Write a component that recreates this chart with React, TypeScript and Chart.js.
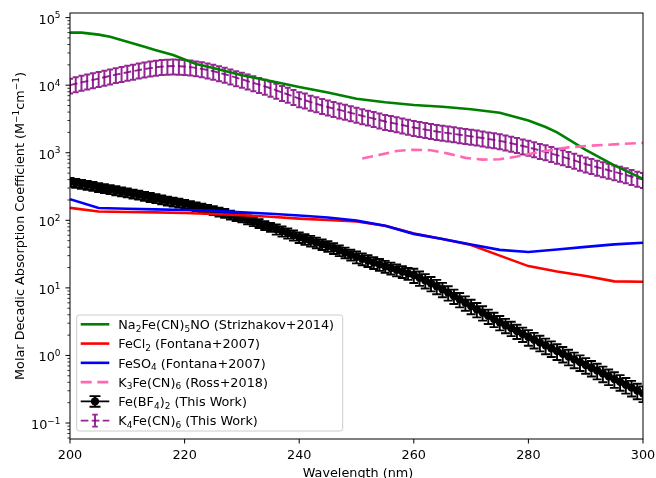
import { useEffect, useRef } from 'react';
import { Chart, registerables } from 'chart.js';
Chart.register(...registerables);

const FONT = '"DejaVu Sans", sans-serif';
const FS = 12.8;

// ---- axis ranges and ticks ----
const X_MIN = 200;
const X_MAX = 300;
const Y_MIN = 0.058;
const Y_MAX = 1.17e5;
const xTickValues = [200, 220, 240, 260, 280, 300];
const yDecadeExponents = [-1, 0, 1, 2, 3, 4, 5];

// ---- Na2Fe(CN)5NO (Strizhakov+2014) ----
const na2Wavelength = [200, 202, 205, 207, 210, 213, 215, 218, 220, 222, 225, 230, 235, 240, 245, 250, 255, 260, 265, 270, 275, 280, 283, 285, 290, 295, 300];
const na2Value = [6.0e4, 6.0e4, 5.6e4, 5.2e4, 4.4e4, 3.7e4, 3.3e4, 2.8e4, 2.4e4, 2.05e4, 1.8e4, 1.4e4, 1.15e4, 9.4e3, 7.8e3, 6.3e3, 5.6e3, 5.1e3, 4.8e3, 4.4e3, 3.9e3, 3.0e3, 2.4e3, 2.0e3, 1.1e3, 6.5e2, 4.1e2];

// ---- Fontana+2007 ----
const fontanaWavelength = [200, 205, 210, 215, 220, 225, 230, 235, 240, 245, 250, 255, 260, 265, 270, 275, 280, 285, 290, 295, 300];
const feCl2Value = [153, 135, 133, 131, 128, 124, 119, 113, 106, 101, 96, 83, 64, 53, 43, 30, 21, 17.5, 15, 12.5, 12.3];
const feSO4Value = [205, 152, 148, 145, 142, 138, 131, 125, 118, 110, 99, 83, 63, 53, 44, 36.5, 34, 37, 40.5, 44, 46.5];

// ---- K3Fe(CN)6 (Ross+2018) ----
const rossWavelength = [251, 254, 257, 260, 263, 266, 269, 272, 275, 278, 281, 284, 287, 290, 295, 300];
const k3Value = [820, 930, 1060, 1110, 1090, 970, 840, 790, 800, 880, 990, 1100, 1200, 1260, 1330, 1400];

// ---- This Work ----
const thisWorkWavelength = [
  200, 201, 202, 203, 204, 205, 206, 207, 208, 209, 210, 211, 212, 213, 214, 215, 216, 217, 218, 219,
  220, 221, 222, 223, 224, 225, 226, 227, 228, 229, 230, 231, 232, 233, 234, 235, 236, 237, 238, 239,
  240, 241, 242, 243, 244, 245, 246, 247, 248, 249, 250, 251, 252, 253, 254, 255, 256, 257, 258, 259,
  260, 261, 262, 263, 264, 265, 266, 267, 268, 269, 270, 271, 272, 273, 274, 275, 276, 277, 278, 279,
  280, 281, 282, 283, 284, 285, 286, 287, 288, 289, 290, 291, 292, 293, 294, 295, 296, 297, 298, 299, 300,
];
const feBF4Value = [
  368, 356, 344, 332, 321, 309, 298, 287, 277, 267, 257, 247, 238, 229, 220, 211, 203, 195, 188, 181,
  174, 167, 160, 153, 147, 141, 134, 128, 121, 115, 110, 103, 96.4, 90.4, 84.7, 79.4, 74.1, 69.2, 64.6, 60.3,
  56.2, 53.0, 49.9, 47.0, 44.3, 41.7, 38.7, 36.0, 33.4, 31.0, 28.8, 27.0, 25.4, 23.8, 22.3, 20.9, 19.7, 18.5, 17.5, 16.4,
  15.5, 14.1, 12.9, 11.7, 10.6, 9.55, 8.51, 7.59, 6.76, 6.03, 5.37, 4.81, 4.31, 3.85, 3.45, 3.09, 2.80, 2.54, 2.30, 2.08,
  1.88, 1.71, 1.55, 1.41, 1.28, 1.16, 1.06, 0.962, 0.875, 0.796, 0.724, 0.658, 0.597, 0.542, 0.492, 0.447, 0.406, 0.368, 0.334, 0.303, 0.275,
];
// relative uncertainty of each Fe(BF4)2 point
const feBF4RelErr = [
  0.15, 0.15, 0.15, 0.15, 0.15, 0.15, 0.15, 0.15, 0.15, 0.15, 0.15, 0.15, 0.15, 0.15, 0.15, 0.15, 0.15, 0.15, 0.15, 0.15,
  0.15, 0.15, 0.15, 0.15, 0.15, 0.15, 0.15, 0.15, 0.15, 0.15, 0.15, 0.15, 0.15, 0.15, 0.15, 0.15, 0.17, 0.17, 0.17, 0.17,
  0.18, 0.18, 0.18, 0.18, 0.18, 0.18, 0.18, 0.18, 0.18, 0.18, 0.2, 0.2, 0.2, 0.2, 0.2, 0.2, 0.2, 0.2, 0.2, 0.2,
  0.24, 0.24, 0.24, 0.24, 0.24, 0.24, 0.24, 0.24, 0.24, 0.24, 0.24, 0.24, 0.24, 0.24, 0.24, 0.24, 0.24, 0.24, 0.24, 0.24,
  0.26, 0.26, 0.26, 0.26, 0.26, 0.26, 0.26, 0.26, 0.26, 0.26, 0.26, 0.26, 0.26, 0.26, 0.26, 0.26, 0.26, 0.26, 0.26, 0.26, 0.26,
];
const k4Value = [
  10000, 10500, 11000, 11500, 12000, 12500, 13100, 13700, 14300, 14900, 15500, 16100, 16700, 17300, 17900, 18400, 18800, 19100, 19200, 19100,
  18900, 18500, 18000, 17400, 16800, 16100, 15300, 14500, 13700, 12900, 12200, 11500, 10800, 10200, 9600, 9000, 8400, 7800, 7300, 6800,
  6300, 6000, 5600, 5300, 5000, 4750, 4500, 4300, 4100, 3900, 3700, 3520, 3360, 3200, 3050, 2900, 2790, 2680, 2570, 2460,
  2360, 2280, 2200, 2130, 2060, 2000, 1950, 1900, 1850, 1800, 1750, 1700, 1650, 1600, 1550, 1500, 1440, 1380, 1320, 1260,
  1200, 1140, 1080, 1030, 970, 920, 870, 820, 770, 720, 680, 645, 610, 580, 550, 520, 495, 470, 445, 420, 400,
];
const k4RelErr = 0.25;

// ---- text ----
type Seg = { t: string; s?: 'sub' | 'sup' };
const xTitle: Seg[] = [{ t: 'Wavelength (nm)' }];
const yTitle: Seg[] = [
  { t: 'Molar Decadic Absorption Coefficient (M' }, { t: '\u22121', s: 'sup' }, { t: 'cm' }, { t: '\u22121', s: 'sup' }, { t: ')' },
];
const legendLabels: Seg[][] = [
  [{ t: 'Na' }, { t: '2', s: 'sub' }, { t: 'Fe(CN)' }, { t: '5', s: 'sub' }, { t: 'NO (Strizhakov+2014)' }],
  [{ t: 'FeCl' }, { t: '2', s: 'sub' }, { t: ' (Fontana+2007)' }],
  [{ t: 'FeSO' }, { t: '4', s: 'sub' }, { t: ' (Fontana+2007)' }],
  [{ t: 'K' }, { t: '3', s: 'sub' }, { t: 'Fe(CN)' }, { t: '6', s: 'sub' }, { t: ' (Ross+2018)' }],
  [{ t: 'Fe(BF' }, { t: '4', s: 'sub' }, { t: ')' }, { t: '2', s: 'sub' }, { t: ' (This Work)' }],
  [{ t: 'K' }, { t: '4', s: 'sub' }, { t: 'Fe(CN)' }, { t: '6', s: 'sub' }, { t: ' (This Work)' }],
];

const GREEN = '#008000';
const RED = '#ff0000';
const BLUE = '#0000ff';
const PINK = '#ff69b4';
const BLACK = '#000000';
const PURPLE_A = 'rgba(128,0,128,0.85)';

function drawRich(ctx: CanvasRenderingContext2D, segs: Seg[], x: number, y: number, size: number, align: 'left' | 'center' | 'right') {
  const sc = 0.7;
  const widths = segs.map((sg) => {
    ctx.font = `${sg.s ? size * sc : size}px ${FONT}`;
    return ctx.measureText(sg.t).width;
  });
  const total = widths.reduce((a, b) => a + b, 0);
  let cx = align === 'left' ? x : align === 'center' ? x - total / 2 : x - total;
  ctx.textAlign = 'left';
  ctx.textBaseline = 'alphabetic';
  segs.forEach((sg, i) => {
    ctx.font = `${sg.s ? size * sc : size}px ${FONT}`;
    const dy = sg.s === 'sub' ? size * 0.2 : sg.s === 'sup' ? -size * 0.42 : 0;
    ctx.fillText(sg.t, cx, y + dy);
    cx += widths[i];
  });
}

const errorBarPlugin = {
  id: 'errbars',
  beforeDatasetDraw(chart: any, args: any) {
    const ds = chart.data.datasets[args.index];
    const eb = ds.errorBars;
    if (!eb) return;
    const { ctx, chartArea: a } = chart;
    const xs = chart.scales.x;
    const ys = chart.scales.y;
    ctx.save();
    ctx.beginPath();
    ctx.rect(a.left, a.top, a.right - a.left, a.bottom - a.top);
    ctx.clip();
    ctx.strokeStyle = eb.color;
    ctx.lineWidth = eb.width;
    ctx.setLineDash([]);
    ds.data.forEach((p: any, i: number) => {
      const rel = Array.isArray(eb.rel) ? eb.rel[i] : eb.rel;
      const err = p.y * rel;
      const px = xs.getPixelForValue(p.x);
      const y1 = ys.getPixelForValue(p.y + err);
      const y0 = ys.getPixelForValue(p.y - err);
      ctx.beginPath();
      ctx.moveTo(px, y0);
      ctx.lineTo(px, y1);
      ctx.moveTo(px - eb.cap, y0);
      ctx.lineTo(px + eb.cap, y0);
      ctx.moveTo(px - eb.cap, y1);
      ctx.lineTo(px + eb.cap, y1);
      ctx.stroke();
    });
    ctx.restore();
  },
};

const axesPlugin = {
  id: 'mplAxes',
  afterDraw(chart: any) {
    const { ctx, chartArea: a } = chart;
    const xs = chart.scales.x;
    const ys = chart.scales.y;
    ctx.save();
    ctx.fillStyle = '#000';
    ctx.strokeStyle = '#000';
    // spines
    ctx.lineWidth = 1;
    ctx.strokeRect(a.left, a.top, a.right - a.left, a.bottom - a.top);
    // x ticks
    xTickValues.forEach((v) => {
      const px = xs.getPixelForValue(v);
      ctx.beginPath();
      ctx.moveTo(px, a.bottom);
      ctx.lineTo(px, a.bottom + 4.5);
      ctx.stroke();
      ctx.font = `${FS}px ${FONT}`;
      ctx.textAlign = 'center';
      ctx.textBaseline = 'alphabetic';
      ctx.fillText(String(v), px, a.bottom + 20.3);
    });
    // y major ticks
    yDecadeExponents.forEach((e) => {
      const py = ys.getPixelForValue(Math.pow(10, e));
      ctx.lineWidth = 1;
      ctx.beginPath();
      ctx.moveTo(a.left, py);
      ctx.lineTo(a.left - 4.5, py);
      ctx.stroke();
      const exp = e < 0 ? '\u2212' + String(-e) : String(e);
      drawRich(ctx, [{ t: '10' }, { t: exp, s: 'sup' }], a.left - 9.5, py + 6, FS, 'right');
    });
    // y minor ticks
    ctx.lineWidth = 0.8;
    for (let e = -2; e <= 5; e++) {
      for (let k = 2; k <= 9; k++) {
        const v = k * Math.pow(10, e);
        if (v < Y_MIN || v > Y_MAX) continue;
        const py = ys.getPixelForValue(v);
        ctx.beginPath();
        ctx.moveTo(a.left, py);
        ctx.lineTo(a.left - 2.6, py);
        ctx.stroke();
      }
    }
    // titles
    drawRich(ctx, xTitle, (a.left + a.right) / 2 + 1.5, 476.5, FS, 'center');
    ctx.save();
    ctx.translate(24, (a.top + a.bottom) / 2);
    ctx.rotate(-Math.PI / 2);
    drawRich(ctx, yTitle, 0, 0, FS, 'center');
    ctx.restore();

    // legend
    const bx = 76.7, by = 315, bw = 266, bh = 116;
    ctx.beginPath();
    ctx.roundRect(bx, by, bw, bh, 2.6);
    ctx.fillStyle = 'rgba(255,255,255,0.8)';
    ctx.fill();
    ctx.strokeStyle = '#cccccc';
    ctx.lineWidth = 1;
    ctx.stroke();
    const hx0 = 80.7, hx1 = 109.3, hxc = (hx0 + hx1) / 2;
    legendLabels.forEach((segs, i) => {
      const ry = 324.3 + i * 19.27;
      ctx.save();
      ctx.setLineDash([]);
      if (i < 3) {
        const c = [GREEN, RED, BLUE][i];
        ctx.strokeStyle = c;
        ctx.lineWidth = 2.6;
        ctx.lineCap = 'square';
        ctx.beginPath();
        ctx.moveTo(hx0 + 1.3, ry);
        ctx.lineTo(hx1 - 1.3, ry);
        ctx.stroke();
      } else if (i === 3) {
        ctx.strokeStyle = PINK;
        ctx.lineWidth = 2.6;
        ctx.setLineDash([11, 5.6]);
        ctx.beginPath();
        ctx.moveTo(hx0, ry);
        ctx.lineTo(hx1, ry);
        ctx.stroke();
      } else if (i === 4) {
        ctx.strokeStyle = BLACK;
        ctx.lineWidth = 1.9;
        ctx.beginPath();
        ctx.moveTo(hx0, ry);
        ctx.lineTo(hx1, ry);
        ctx.moveTo(hxc, ry - 5.3);
        ctx.lineTo(hxc, ry + 5.3);
        ctx.moveTo(hxc - 5.5, ry - 5.3);
        ctx.lineTo(hxc + 5.5, ry - 5.3);
        ctx.moveTo(hxc - 5.5, ry + 5.3);
        ctx.lineTo(hxc + 5.5, ry + 5.3);
        ctx.stroke();
        ctx.fillStyle = BLACK;
        ctx.beginPath();
        ctx.arc(hxc, ry, 4.2, 0, Math.PI * 2);
        ctx.fill();
      } else {
        ctx.strokeStyle = PURPLE_A;
        ctx.lineWidth = 1.9;
        ctx.setLineDash([7.7, 3.3]);
        ctx.beginPath();
        ctx.moveTo(hx0, ry);
        ctx.lineTo(hx1, ry);
        ctx.stroke();
        ctx.setLineDash([]);
        ctx.beginPath();
        ctx.moveTo(hxc, ry - 6);
        ctx.lineTo(hxc, ry + 6);
        ctx.moveTo(hxc - 2.8, ry - 6);
        ctx.lineTo(hxc + 2.8, ry - 6);
        ctx.moveTo(hxc - 2.8, ry + 6);
        ctx.lineTo(hxc + 2.8, ry + 6);
        ctx.stroke();
      }
      ctx.restore();
      ctx.fillStyle = '#000';
      drawRich(ctx, segs, 118.3, ry + 4.8, FS, 'left');
    });
    ctx.restore();
  },
};

function pts(xs: number[], ys: number[]) {
  return xs.map((x, i) => ({ x, y: ys[i] }));
}

export default function App() {
  const ref = useRef<HTMLCanvasElement>(null);
  useEffect(() => {
    document.body.style.margin = '0';
    const base = { tension: 0, pointRadius: 0, clip: 0, borderWidth: 2.6, fill: false };
    const chart = new Chart(ref.current as HTMLCanvasElement, {
      type: 'line',
      data: {
        datasets: [
          { ...base, label: 'K4Fe(CN)6 (This Work)', data: pts(thisWorkWavelength, k4Value), borderColor: PURPLE_A, backgroundColor: PURPLE_A, borderWidth: 1.9, borderDash: [7.7, 3.3], order: 6, errorBars: { rel: k4RelErr, color: PURPLE_A, width: 2, cap: 3 } } as any,
          { ...base, label: 'Fe(BF4)2 (This Work)', data: pts(thisWorkWavelength, feBF4Value), borderColor: BLACK, backgroundColor: BLACK, borderWidth: 1.9, pointRadius: 4.2, pointBorderWidth: 0, pointBackgroundColor: BLACK, order: 5, errorBars: { rel: feBF4RelErr, color: BLACK, width: 1.9, cap: 4.5 } } as any,
          { ...base, label: 'Na2Fe(CN)5NO (Strizhakov+2014)', data: pts(na2Wavelength, na2Value), borderColor: GREEN, backgroundColor: GREEN, order: 4 },
          { ...base, label: 'FeCl2 (Fontana+2007)', data: pts(fontanaWavelength, feCl2Value), borderColor: RED, backgroundColor: RED, order: 3 },
          { ...base, label: 'FeSO4 (Fontana+2007)', data: pts(fontanaWavelength, feSO4Value), borderColor: BLUE, backgroundColor: BLUE, order: 2 },
          { ...base, label: 'K3Fe(CN)6 (Ross+2018)', data: pts(rossWavelength, k3Value), borderColor: PINK, backgroundColor: PINK, borderDash: [11, 5.6], order: 1 },
        ],
      },
      options: {
        responsive: false,
        animation: false,
        devicePixelRatio: 1,
        events: [],
        layout: { padding: { left: 70, top: 13, right: 13, bottom: 39 } },
        scales: {
          x: { type: 'linear', min: X_MIN, max: X_MAX, display: false },
          y: { type: 'logarithmic', min: Y_MIN, max: Y_MAX, display: false },
        },
        plugins: { legend: { display: false }, tooltip: { enabled: false } },
      },
      plugins: [errorBarPlugin, axesPlugin],
    });
    return () => chart.destroy();
  }, []);
  return (
    <div style={{ width: 656, height: 478 }}>
      <canvas ref={ref} width={656} height={478} style={{ display: 'block' }} />
    </div>
  );
}
